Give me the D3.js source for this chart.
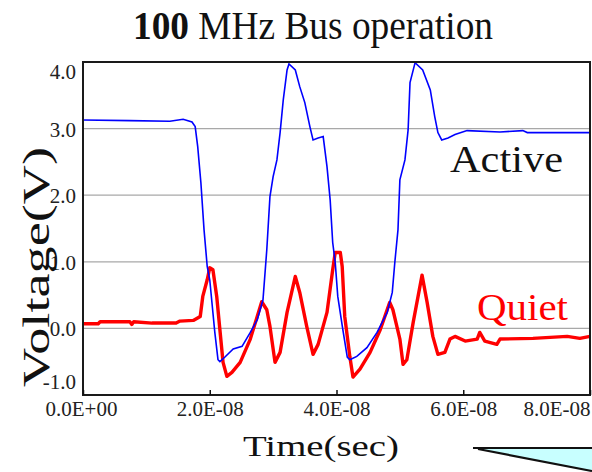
<!DOCTYPE html>
<html>
<head>
<meta charset="utf-8">
<script src="https://cdn.jsdelivr.net/npm/d3@7"></script>
<style>
  body { margin: 0; background: #fff; }
  svg { display: block; }
  .tick text { font-family: "Liberation Serif", "Times New Roman", serif; font-size: 21px; fill: #222; }
</style>
</head>
<body>
<div id="chartContainer"></div>
<script>
// time in ns, voltage in V
var activeTime = [0, 7.4, 13.7, 15.8, 17.2, 17.7, 18.1, 18.6, 19.1, 19.6, 20.0, 20.8, 21.3, 21.6, 22.4, 23.7, 25.1, 26.4, 27.5, 28.4,
    29.0, 29.5, 30.0, 30.6, 31.1, 31.6, 32.2, 32.5, 33.5, 34.2, 35.0, 35.8, 36.3, 37.1, 37.9, 38.5, 39.0, 39.4, 39.8, 40.2,
    41.0, 41.7, 42.1, 43.2, 44.8, 46.4, 48.0, 48.8, 49.2, 49.7, 50.0, 50.8, 51.3, 51.6, 52.4, 53.6, 54.8, 55.5, 56.0, 56.6,
    57.6, 58.7, 60.6, 65.8, 69.4, 70.1, 80.0];
var activeVolt = [3.13, 3.12, 3.11, 3.14, 3.10, 3.03, 2.73, 2.19, 1.48, 0.93, 0.73, -0.06, -0.47, -0.50, -0.43, -0.31, -0.27, -0.06, 0.13, 0.43,
    1.18, 1.98, 2.28, 2.53, 2.94, 3.43, 3.88, 3.97, 3.88, 3.63, 3.39, 3.03, 2.83, 2.86, 2.88, 2.43, 1.93, 1.29, 0.99, 0.48,
    -0.02, -0.43, -0.47, -0.42, -0.29, -0.06, 0.24, 0.54, 0.99, 1.48, 2.23, 2.53, 2.98, 3.69, 3.99, 3.88, 3.58, 3.18, 2.94, 2.83,
    2.86, 2.91, 2.97, 2.95, 2.97, 2.94, 2.94];

var quietTime = [0, 2.4, 2.7, 7.4, 7.7, 8.0, 10.9, 14.7, 15.3, 17.4, 18.5, 18.9, 19.6, 20.0, 20.5, 21.1, 21.6, 22.1, 22.7, 23.5,
    24.8, 26.4, 28.2, 29.0, 29.5, 30.3, 31.1, 32.2, 33.5, 34.2, 35.3, 36.3, 37.1, 38.5, 39.4, 39.8, 40.6, 40.9, 41.3, 42.1,
    42.6, 43.7, 45.3, 46.9, 48.4, 48.9, 50.0, 50.5, 51.1, 52.1, 53.5, 54.3, 55.2, 56.0, 57.1, 57.9, 58.7, 60.3, 62.2, 62.6,
    63.4, 65.3, 65.8, 71.0, 76.4, 78.4, 80.0];
var quietVolt = [0.07, 0.07, 0.10, 0.10, 0.06, 0.10, 0.08, 0.08, 0.11, 0.12, 0.18, 0.48, 0.73, 0.91, 0.88, 0.48, -0.02, -0.51, -0.72, -0.66,
    -0.51, -0.16, 0.40, 0.28, 0.03, -0.51, -0.36, 0.24, 0.78, 0.54, 0.03, -0.39, -0.24, 0.24, 0.88, 1.14, 1.14, 0.93, 0.18, -0.42,
    -0.73, -0.61, -0.36, -0.02, 0.39, 0.28, -0.16, -0.54, -0.47, 0.09, 0.80, 0.39, -0.12, -0.39, -0.36, -0.16, -0.12, -0.19, -0.16, -0.06,
    -0.19, -0.24, -0.16, -0.15, -0.12, -0.15, -0.12];

var xTicks = [0, 20, 40, 60, 80];
var xTickLabels = ["0.0E+00", "2.0E-08", "4.0E-08", "6.0E-08", "8.0E-08"];
var yTicks = [-1, 0, 1, 2, 3, 4];
var yTickLabels = ["-1.0", "0.0", "1.0", "2.0", "3.0", "4.0"];
var gridValues = [0, 1, 2, 3];

var width = 592, height = 472;
var margin = { top: 62, right: 2, bottom: 77, left: 83 };
var plotW = width - margin.left - margin.right;
var plotH = height - margin.top - margin.bottom;
var serif = "'Liberation Serif', 'Times New Roman', serif";

var svg = d3.select("#chartContainer")
    .append("svg")
    .attr("width", width)
    .attr("height", height);

var g = svg.append("g")
    .attr("transform", "translate(" + margin.left + "," + margin.top + ")");

var x = d3.scaleLinear().domain([0, 80]).range([0, plotW]);
var y = d3.scaleLinear().domain([-1, 4]).range([plotH, 0]);

// grid
g.selectAll(".grid")
    .data(gridValues)
    .enter().append("line")
    .attr("class", "grid")
    .attr("x1", 0)
    .attr("x2", plotW)
    .attr("y1", function (d) { return y(d); })
    .attr("y2", function (d) { return y(d); })
    .style("stroke", "#a8a8a8")
    .style("stroke-width", 1.2);

var activeData = activeTime.map(function (t, i) { return { t: t, v: activeVolt[i] }; });
var quietData = quietTime.map(function (t, i) { return { t: t, v: quietVolt[i] }; });

var valueline = d3.line()
    .x(function (d) { return x(d.t); })
    .y(function (d) { return y(d.v); });

g.append("path")
    .datum(quietData)
    .attr("d", valueline)
    .style("fill", "none")
    .style("stroke", "#ff0000")
    .style("stroke-width", 3.4)
    .style("stroke-linejoin", "round");

g.append("path")
    .datum(activeData)
    .attr("d", valueline)
    .style("fill", "none")
    .style("stroke", "#0000ff")
    .style("stroke-width", 1.6);

// frame
g.append("rect")
    .attr("width", plotW)
    .attr("height", plotH)
    .style("fill", "none")
    .style("stroke", "#1a1a1a")
    .style("stroke-width", 2);

// x axis, ticks pointing inside
var xAxis = g.append("g")
    .attr("transform", "translate(0," + plotH + ")")
    .call(d3.axisBottom(x)
        .tickValues(xTicks)
        .tickFormat(function (d, i) { return xTickLabels[i]; })
        .tickSizeInner(-5)
        .tickSizeOuter(0)
        .tickPadding(6));
xAxis.select(".domain").remove();
xAxis.selectAll(".tick line").style("stroke", "#111").style("stroke-width", 1.5);
xAxis.selectAll(".tick text")
    .attr("text-anchor", function (d, i) { return i === xTicks.length - 1 ? "end" : "middle"; })
    .attr("dx", function (d, i) { return i === 0 ? -2 : 0; });

// y axis
var yAxis = g.append("g")
    .call(d3.axisLeft(y)
        .tickValues(yTicks)
        .tickFormat(function (d, i) { return yTickLabels[i]; })
        .tickSize(0)
        .tickPadding(7));
yAxis.select(".domain").remove();
yAxis.selectAll(".tick text")
    .attr("dy", function (d) { return d === 4 ? "0.8em" : (d === -1 ? "-0.3em" : "0.36em"); });

// titles
var title = svg.append("text")
    .attr("x", 133)
    .attr("y", 39)
    .attr("textLength", 360)
    .attr("lengthAdjust", "spacingAndGlyphs")
    .style("font-family", serif)
    .style("font-size", "39px")
    .style("fill", "#111");
title.append("tspan").style("font-weight", "bold").text("100");
title.append("tspan").text(" MHz Bus operation");

svg.append("text")
    .attr("transform", "translate(49,267) rotate(-90)")
    .attr("text-anchor", "middle")
    .attr("textLength", 240)
    .attr("lengthAdjust", "spacingAndGlyphs")
    .style("font-family", serif)
    .style("font-size", "37px")
    .style("fill", "#111")
    .text("Voltage(V)");

svg.append("text")
    .attr("x", 321)
    .attr("y", 456)
    .attr("text-anchor", "middle")
    .attr("textLength", 156)
    .attr("lengthAdjust", "spacingAndGlyphs")
    .style("font-family", serif)
    .style("font-size", "30px")
    .style("fill", "#111")
    .text("Time(sec)");

// series labels
svg.append("text")
    .attr("x", 450)
    .attr("y", 172)
    .attr("textLength", 113)
    .attr("lengthAdjust", "spacingAndGlyphs")
    .style("font-family", serif)
    .style("font-size", "38px")
    .style("fill", "#111")
    .text("Active");

svg.append("text")
    .attr("x", 477)
    .attr("y", 320)
    .attr("textLength", 91)
    .attr("lengthAdjust", "spacingAndGlyphs")
    .style("font-family", serif)
    .style("font-size", "37px")
    .style("fill", "#ff0000")
    .text("Quiet");

// cut-off callout shape at bottom right
svg.append("path")
    .attr("d", "M473,448 L592,448 L592,472 Z")
    .style("fill", "#c8ffff")
    .style("stroke", "none");
svg.append("path")
    .attr("d", "M473,448 L592,448 M478,449 L592,471")
    .style("fill", "none")
    .style("stroke", "#111")
    .style("stroke-width", 2.2);
</script>
</body>
</html>
